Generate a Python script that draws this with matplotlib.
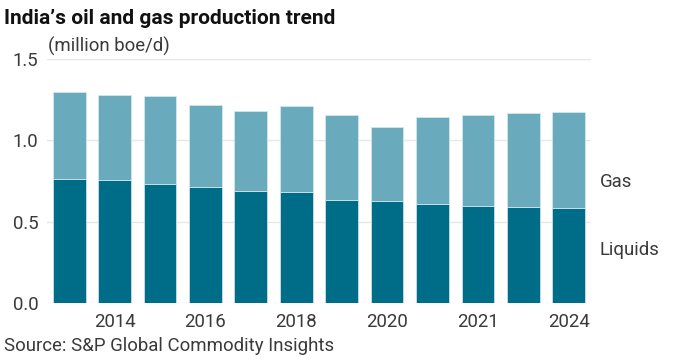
import matplotlib
matplotlib.use("Agg")
import matplotlib.pyplot as plt
import numpy as np

plt.rcParams['font.family'] = ['Roboto', 'DejaVu Sans']

years = ["2013", "2014", "2015", "2016", "2017", "2018", "2019", "2020", "2021", "2022", "2023", "2024"]
liquids = [0.763, 0.756, 0.732, 0.715, 0.689, 0.681, 0.632, 0.626, 0.609, 0.599, 0.591, 0.587]
total = [1.298, 1.278, 1.272, 1.218, 1.182, 1.209, 1.157, 1.083, 1.145, 1.153, 1.169, 1.175]
gas = [t - l for t, l in zip(total, liquids)]
tick_positions = [1, 3, 5, 7, 9, 11]
tick_labels = ["2014", "2016", "2018", "2020", "2021", "2024"]
y_ticks = [0.0, 0.5, 1.0, 1.5]

c_liq = "#006d88"
c_gas = "#6aaabd"
txt = "#3a3a3a"
fs = 13.4

fig = plt.figure(figsize=(6.8, 3.64), dpi=100)
ax = fig.add_axes([0.069, 0.167, 0.8, 0.671])

x = np.arange(len(years))
ax.bar(x, liquids, width=0.72, color=c_liq, edgecolor="#d8eaf0", linewidth=0.5, zorder=3)
ax.bar(x, gas, bottom=liquids, width=0.72, color=c_gas, edgecolor="#d8eaf0", linewidth=0.5, zorder=3)

ax.set_xlim(-0.49, 11.49)
ax.set_ylim(0, 1.5)
ax.set_yticks(y_ticks)
ax.set_yticklabels([f"{v:.1f}" for v in y_ticks])
ax.set_xticks(tick_positions)
ax.set_xticklabels(tick_labels)
ax.tick_params(axis='both', length=0, labelsize=fs, colors=txt)
ax.tick_params(axis='y', pad=6)
ax.tick_params(axis='x', pad=7)
ax.grid(axis='y', color="#e6e6e6", linewidth=1, zorder=0)
for s in ax.spines.values():
    s.set_visible(False)

ax.text(11.68, 0.744, "Gas", fontsize=fs, color=txt, va='center', ha='left')
ax.text(11.68, 0.327, "Liquids", fontsize=fs, color=txt, va='center', ha='left')

fig.text(0.006, 0.975, "India\u2019s oil and gas production trend", fontsize=15, fontweight='bold',
         color="#111111", va='top', ha='left')
fig.text(0.07, 0.845, "(million boe/d)", fontsize=fs, color=txt, va='bottom', ha='left')
fig.text(0.006, 0.025, "Source: S&P Global Commodity Insights", fontsize=fs, color=txt, va='bottom', ha='left')

fig.savefig("out.png", dpi=100)
